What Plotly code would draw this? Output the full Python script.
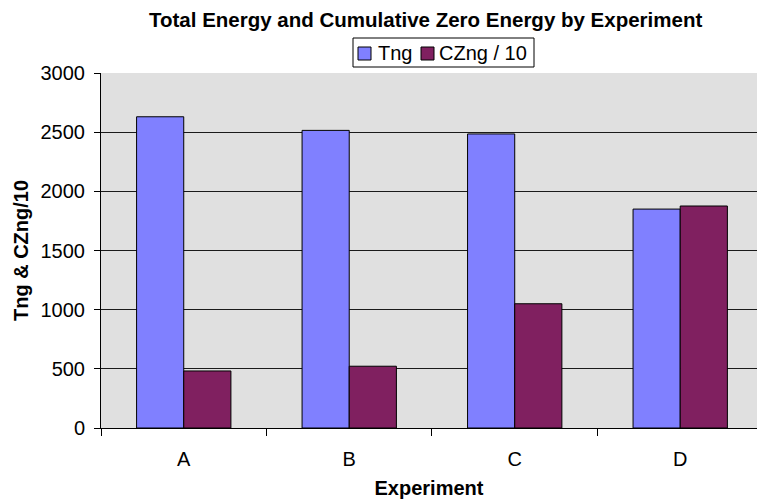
import plotly.graph_objects as go

# Experiment categories and the two energy series
experiments = ["A", "B", "C", "D"]
tng = [2630, 2515, 2485, 1850]
czng_div10 = [482, 522, 1050, 1876]

series_names = ["Tng", "CZng / 10"]
series_colors = ["#8080FF", "#802060"]

y_ticks = [0, 500, 1000, 1500, 2000, 2500, 3000]

FONT = "Liberation Sans, Arial, sans-serif"

# Plot-area geometry in pixels (used to convert pixel offsets to paper units)
W, H = 757, 499
M_L, M_R, M_T, M_B = 101, 0, 73, 71
PW, PH = W - M_L - M_R, H - M_T - M_B


def px_x(x):
    return (x - M_L) / PW


def px_y(y):
    return (H - M_B - y) / PH


fig = go.Figure()
for name, color, values in zip(series_names, series_colors, [tng, czng_div10]):
    fig.add_trace(go.Bar(
        x=experiments, y=values, name=name,
        marker=dict(color=color, line=dict(color="#000000", width=1)),
    ))

# Compact boxed legend above the plot area
shapes = [dict(
    type="rect", xref="paper", yref="paper",
    x0=px_x(353), x1=px_x(534), y0=px_y(67), y1=px_y(38),
    line=dict(color="#000000", width=1), fillcolor="#FFFFFF", layer="above",
)]
annotations = [dict(
    text="<b>Total Energy and Cumulative Zero Energy by Experiment</b>",
    xref="paper", yref="paper", x=px_x(425), y=px_y(20),
    xanchor="center", yanchor="middle", showarrow=False,
    font=dict(family=FONT, size=20.5, color="#000000"),
)]
swatch_x = [358, 421]
label_x = [376, 437]
for name, color, sx, lx in zip(series_names, series_colors, swatch_x, label_x):
    shapes.append(dict(
        type="rect", xref="paper", yref="paper",
        x0=px_x(sx), x1=px_x(sx + 13), y0=px_y(60), y1=px_y(47),
        line=dict(color="#000000", width=1), fillcolor=color, layer="above",
    ))
    annotations.append(dict(
        text=name, xref="paper", yref="paper",
        x=px_x(lx), y=px_y(53), xanchor="left", yanchor="middle",
        showarrow=False, font=dict(family=FONT, size=20, color="#000000"),
    ))

fig.update_layout(
    width=W, height=H,
    margin=dict(l=M_L, r=M_R, t=M_T, b=M_B),
    paper_bgcolor="#FFFFFF",
    plot_bgcolor="#E0E0E0",
    barmode="group",
    bargap=0.43,
    bargroupgap=0,
    font=dict(family=FONT, size=20, color="#000000"),
    showlegend=False,
    shapes=shapes,
    annotations=annotations,
)

fig.update_xaxes(
    type="category",
    range=[-0.5, 3.464],
    showline=True, linecolor="#000000", linewidth=1,
    ticks="outside", ticklen=7, tickcolor="#000000",
    tickson="boundaries",
    ticklabelstandoff=13,
    showgrid=False,
    tickfont=dict(family=FONT, size=20),
    title=dict(text="<b>Experiment</b>", font=dict(family=FONT, size=20), standoff=11),
)
fig.update_yaxes(
    range=[0, 3000],
    tickvals=y_ticks,
    showline=True, linecolor="#000000", linewidth=1,
    ticks="outside", ticklen=6, tickcolor="#000000",
    ticklabelstandoff=5,
    showgrid=True, gridcolor="#1A1A1A", gridwidth=1,
    zeroline=False,
    tickfont=dict(family=FONT, size=20),
    title=dict(text="<b>Tng &amp; CZng/10</b>", font=dict(family=FONT, size=20), standoff=6),
)

fig.write_html("out.html")
